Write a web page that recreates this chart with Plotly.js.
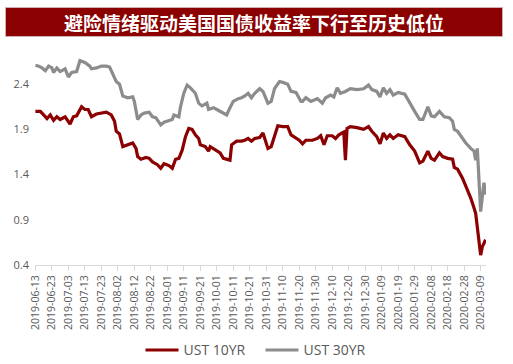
<!DOCTYPE html>
<html><head><meta charset="utf-8">
<script src="https://cdn.plot.ly/plotly-3.0.1.min.js"></script>
<style>html,body{margin:0;padding:0;background:#fff}#c{width:513px;height:364px}</style>
</head><body><div id="c"></div>
<script>
const chartTitle = '避险情绪驱动美国国债收益率下行至历史低位';
const name10 = 'UST 10YR';
const name30 = 'UST 30YR';
const yTicks = [0.4, 0.9, 1.4, 1.9, 2.4];

const dates10 = ['2019-06-13','2019-06-16','2019-06-18','2019-06-20','2019-06-22','2019-06-24','2019-06-26','2019-06-28','2019-07-01','2019-07-04','2019-07-06','2019-07-08','2019-07-11','2019-07-13','2019-07-15','2019-07-17','2019-07-20','2019-07-23','2019-07-26','2019-07-29','2019-07-31','2019-08-01','2019-08-03','2019-08-05','2019-08-08','2019-08-11','2019-08-13','2019-08-14','2019-08-16','2019-08-19','2019-08-21','2019-08-23','2019-08-26','2019-08-28','2019-08-30','2019-09-02','2019-09-04','2019-09-06','2019-09-08','2019-09-10','2019-09-12','2019-09-14','2019-09-16','2019-09-18','2019-09-20','2019-09-21','2019-09-24','2019-09-26','2019-09-27','2019-09-30','2019-10-03','2019-10-05','2019-10-09','2019-10-10','2019-10-13','2019-10-16','2019-10-18','2019-10-20','2019-10-22','2019-10-24','2019-10-27','2019-10-29','2019-11-01','2019-11-03','2019-11-05','2019-11-07','2019-11-10','2019-11-13','2019-11-15','2019-11-18','2019-11-20','2019-11-22','2019-11-24','2019-11-28','2019-12-01','2019-12-03','2019-12-05','2019-12-07','2019-12-10','2019-12-12','2019-12-14','2019-12-16','2019-12-17','2019-12-18','2019-12-19','2019-12-21','2019-12-25','2019-12-29','2020-01-01','2020-01-03','2020-01-06','2020-01-08','2020-01-10','2020-01-12','2020-01-14','2020-01-16','2020-01-19','2020-01-23','2020-01-26','2020-01-29','2020-01-31','2020-02-01','2020-02-03','2020-02-06','2020-02-08','2020-02-10','2020-02-13','2020-02-15','2020-02-18','2020-02-21','2020-02-22','2020-02-24','2020-02-27','2020-02-29','2020-03-02','2020-03-03','2020-03-05','2020-03-06','2020-03-09','2020-03-10','2020-03-11','2020-03-12'];
const ust10 = [2.10,2.10,2.06,2.02,2.06,2.00,2.04,2.01,2.04,1.96,2.04,2.05,2.15,2.12,2.12,2.04,2.07,2.08,2.09,2.06,1.99,1.88,1.85,1.71,1.73,1.75,1.69,1.60,1.57,1.59,1.58,1.54,1.51,1.47,1.52,1.50,1.47,1.57,1.58,1.67,1.82,1.91,1.90,1.84,1.80,1.73,1.71,1.66,1.71,1.67,1.64,1.58,1.56,1.73,1.77,1.77,1.78,1.80,1.77,1.80,1.81,1.86,1.69,1.71,1.84,1.94,1.93,1.93,1.84,1.81,1.78,1.74,1.78,1.78,1.80,1.83,1.73,1.83,1.83,1.80,1.84,1.86,1.87,1.56,1.91,1.93,1.92,1.90,1.93,1.88,1.82,1.74,1.86,1.80,1.84,1.80,1.84,1.82,1.73,1.66,1.58,1.53,1.55,1.66,1.58,1.56,1.64,1.60,1.58,1.57,1.48,1.46,1.36,1.27,1.20,1.14,1.03,0.97,0.51,0.60,0.64,0.68];

const dates30 = ['2019-06-13','2019-06-15','2019-06-17','2019-06-19','2019-06-21','2019-06-23','2019-06-24','2019-06-26','2019-06-28','2019-07-01','2019-07-03','2019-07-05','2019-07-08','2019-07-10','2019-07-13','2019-07-16','2019-07-17','2019-07-20','2019-07-23','2019-07-26','2019-07-28','2019-07-30','2019-08-01','2019-08-03','2019-08-05','2019-08-08','2019-08-11','2019-08-12','2019-08-14','2019-08-16','2019-08-18','2019-08-21','2019-08-23','2019-08-25','2019-08-28','2019-08-30','2019-09-02','2019-09-04','2019-09-05','2019-09-08','2019-09-09','2019-09-11','2019-09-13','2019-09-15','2019-09-18','2019-09-20','2019-09-22','2019-09-25','2019-09-26','2019-09-29','2019-10-01','2019-10-03','2019-10-07','2019-10-09','2019-10-11','2019-10-14','2019-10-16','2019-10-18','2019-10-20','2019-10-22','2019-10-24','2019-10-27','2019-10-29','2019-11-01','2019-11-03','2019-11-05','2019-11-08','2019-11-10','2019-11-13','2019-11-15','2019-11-18','2019-11-21','2019-11-22','2019-11-24','2019-11-27','2019-12-01','2019-12-04','2019-12-06','2019-12-09','2019-12-11','2019-12-13','2019-12-15','2019-12-18','2019-12-21','2019-12-25','2019-12-29','2020-01-01','2020-01-03','2020-01-06','2020-01-08','2020-01-10','2020-01-12','2020-01-14','2020-01-16','2020-01-19','2020-01-23','2020-01-26','2020-01-29','2020-02-01','2020-02-03','2020-02-06','2020-02-08','2020-02-10','2020-02-13','2020-02-16','2020-02-19','2020-02-21','2020-02-22','2020-02-24','2020-02-27','2020-02-29','2020-03-03','2020-03-05','2020-03-06','2020-03-07','2020-03-09','2020-03-10','2020-03-11','2020-03-12'];
const ust30 = [2.61,2.60,2.58,2.55,2.60,2.58,2.53,2.58,2.54,2.57,2.48,2.53,2.54,2.66,2.64,2.60,2.57,2.58,2.60,2.60,2.59,2.50,2.43,2.40,2.27,2.25,2.26,2.21,2.01,2.06,2.08,2.09,2.04,2.03,1.95,1.98,2.00,2.01,2.06,2.04,2.15,2.30,2.39,2.36,2.30,2.19,2.16,2.19,2.12,2.14,2.12,2.10,2.06,2.14,2.21,2.24,2.25,2.27,2.30,2.25,2.30,2.35,2.32,2.19,2.21,2.35,2.43,2.42,2.40,2.32,2.31,2.21,2.21,2.25,2.21,2.24,2.19,2.25,2.28,2.26,2.36,2.30,2.32,2.35,2.34,2.35,2.39,2.34,2.32,2.26,2.36,2.30,2.34,2.28,2.31,2.29,2.19,2.10,2.01,2.01,2.15,2.05,2.04,2.10,2.04,2.03,1.99,1.90,1.88,1.80,1.75,1.69,1.66,1.56,1.69,0.99,1.12,1.31,1.18];

const traces = [
  {x: dates10, y: ust10, name: name10, type: 'scatter', mode: 'lines',
   line: {color: '#8B0000', width: 3.2}},
  {x: dates30, y: ust30, name: name30, type: 'scatter', mode: 'lines',
   line: {color: '#8C8C8C', width: 3.2}}
];

const layout = {
  width: 513, height: 364,
  margin: {l: 35, r: 27, t: 39, b: 99, autoexpand: false},
  paper_bgcolor: '#fff', plot_bgcolor: '#fff',
  font: {family: 'Open Sans, Noto Sans, sans-serif', color: '#595959'},
  showlegend: true,
  legend: {orientation: 'h', x: 0.5, xanchor: 'center', y: -0.307, yanchor: 'top',
    font: {size: 14, color: '#595959'}, itemwidth: 33, entrywidth: 72,
    bgcolor: 'rgba(0,0,0,0)'},
  xaxis: {type: 'date', range: ['2019-06-12 18:00', '2020-03-12 06:00'],
    tick0: '2019-06-13', dtick: 864000000, tickformat: '%Y-%m-%d', tickangle: -90,
    showgrid: false, zeroline: false, showline: true, linecolor: '#D9D9D9', linewidth: 1,
    ticks: 'outside', ticklen: 5, tickcolor: '#D9D9D9',
    tickfont: {size: 10.5, color: '#595959'}},
  yaxis: {range: [0.4, 2.9], tickvals: yTicks, ticktext: yTicks.map(v => v.toFixed(1)),
    showgrid: false, zeroline: false, showline: false, ticks: '', ticklabelstandoff: 5,
    tickfont: {size: 11, color: '#595959'}},
  annotations: [{
    text: '<b>' + chartTitle + '</b>', xref: 'paper', yref: 'paper',
    x: (254 - 35) / 451, y: (265 - 22) / 226, xanchor: 'center', yanchor: 'middle',
    showarrow: false, width: 496, height: 28, bgcolor: '#8B0000',
    bordercolor: '#D0B0B0', borderwidth: 1, borderpad: 0,
    font: {family: 'Noto Sans CJK SC', size: 19, color: '#FFFFFF'}
  }]
};

Plotly.newPlot('c', traces, layout, {staticPlot: true, displayModeBar: false});
</script></body></html>
